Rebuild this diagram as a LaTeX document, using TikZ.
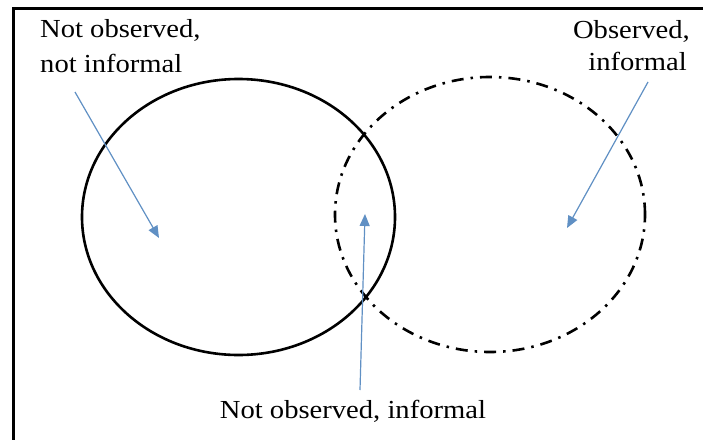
\documentclass[tikz,border=0pt]{standalone}
\usepackage{fontspec}
\setmainfont{Liberation Serif}[FakeStretch=1.1]
\usetikzlibrary{shapes.geometric,arrows.meta}
\definecolor{arrowblue}{RGB}{96,144,196}
\tikzset{
  x=1pt,y=-1pt,
  lbl/.style={font=\fontsize{26}{30}\selectfont, inner sep=0pt},
  oval/.style={ellipse, draw=black, line width=2.6pt, inner sep=0pt},
  pointer/.style={draw=arrowblue, line width=1.2pt, -{Triangle[length=12pt,width=10pt]}},
  frameline/.style={line width=3pt, line cap=rect}
}
\begin{document}
\begin{tikzpicture}
\useasboundingbox (0,0) rectangle (703,439);
\fill[white] (0,0) rectangle (703,439);
% frame (left and top sides)
\coordinate (fbl) at (13,441);
\coordinate (ftl) at (13,8);
\coordinate (ftr) at (705,8);
\draw[frameline] (fbl) -- (ftl) -- (ftr);
% ovals
\node[oval, minimum width=313pt, minimum height=276pt] (solid) at (238.5,217) {};
\node[oval, dash pattern=on 12pt off 7pt on 2.5pt off 7pt, minimum width=310pt, minimum height=275pt] (dashdot) at (490,214.5) {};
% labels
\node[lbl, anchor=base west] (l1a) at (40,37) {Not observed,};
\node[lbl, anchor=base west] (l1b) at (40,72) {not informal};
\node[lbl, anchor=base east] (l2a) at (690,38) {Observed,};
\node[lbl, anchor=base east] (l2b) at (687,70) {informal};
\node[lbl, anchor=base] (l3) at (353,418) {Not observed, informal};
% arrow ends
\coordinate (s1) at (75,92);
\coordinate (t1) at (159,238);
\coordinate (s2) at (648,82);
\coordinate (t2) at (567,228);
\coordinate (s3) at (360,390);
\coordinate (t3) at (365,214);
\draw[pointer] (s1) -- (t1);
\draw[pointer] (s2) -- (t2);
\draw[pointer] (s3) -- (t3);
\end{tikzpicture}
\end{document}
